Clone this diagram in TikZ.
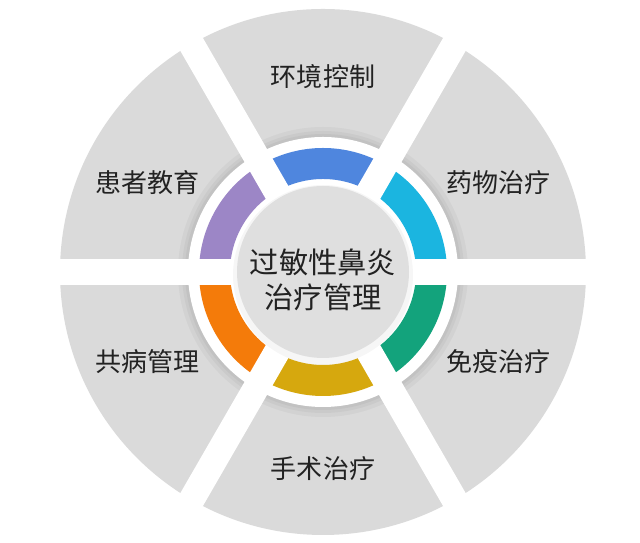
\documentclass[tikz,border=0pt]{standalone}
\usepackage{fontspec}
\newfontfamily\cjk{Noto Sans CJK SC}
\usepackage{xcolor}
\usepackage{tikz}
\usetikzlibrary{positioning}

\definecolor{sectorgray}{HTML}{DADADA}
\definecolor{hubgray}{HTML}{DFDFDF}
\definecolor{arcblue}{HTML}{4F86DE}
\definecolor{arccyan}{HTML}{1BB5E0}
\definecolor{arcgreen}{HTML}{13A37C}
\definecolor{arcyellow}{HTML}{D6A80E}
\definecolor{arcorange}{HTML}{F47B0A}
\definecolor{arcpurple}{HTML}{9C86C6}
\definecolor{txt}{HTML}{222222}

\begin{document}
\begin{tikzpicture}[
  x=0.025cm, y=0.025cm,
  lbl/.style={text=txt, font=\cjk\fontsize{18.5pt}{22pt}\selectfont, inner sep=0pt},
  hubdisk/.style={circle, fill=hubgray, minimum size=172*0.025cm, inner sep=0pt},
  hubtext/.style={align=center, text=txt, inner sep=0pt, font=\cjk\fontsize{20.8pt}{25pt}\selectfont},
  band/.style={white, line width=0.65cm},
  shade/.style={fill=black, opacity=0.035}]

  \useasboundingbox (0,0) rectangle (640,543);
  \coordinate (c) at (323,271);

  % outer sectors
  \fill[sectorgray] (c) circle[radius=263];

  % white hub with soft shadow
  \fill[shade] (c) circle[radius=145];
  \fill[shade] (c) circle[radius=141];
  \fill[shade] (c) circle[radius=138];
  \fill[white] (c) circle[radius=135];

  % coloured ring
  \fill[arcblue]   (c) ++(60:124)  arc[start angle=60,  end angle=120, radius=124] -- ++(300:31) arc[start angle=120, end angle=60,  radius=93] -- cycle;
  \fill[arccyan]   (c) ++(0:124)   arc[start angle=0,   end angle=60,  radius=124] -- ++(240:31) arc[start angle=60,  end angle=0,   radius=93] -- cycle;
  \fill[arcgreen]  (c) ++(-60:124) arc[start angle=-60, end angle=0,   radius=124] -- ++(180:31) arc[start angle=0,   end angle=-60, radius=93] -- cycle;
  \fill[arcyellow] (c) ++(240:124) arc[start angle=240, end angle=300, radius=124] -- ++(120:31) arc[start angle=300, end angle=240, radius=93] -- cycle;
  \fill[arcorange] (c) ++(180:124) arc[start angle=180, end angle=240, radius=124] -- ++(60:31)  arc[start angle=240, end angle=180, radius=93] -- cycle;
  \fill[arcpurple] (c) ++(120:124) arc[start angle=120, end angle=180, radius=124] -- ++(0:31)   arc[start angle=180, end angle=120, radius=93] -- cycle;

  % gaps between sectors
  \draw[band] (c) ++(0:270)   -- ++(180:540);
  \draw[band] (c) ++(60:270)  -- ++(240:540);
  \draw[band] (c) ++(120:270) -- ++(300:540);

  % centre
  \fill[shade] (c) ++(0,-3) circle[radius=90];
  \node[hubdisk] (hub) at (c) {};
  \node[hubtext] (title) at ([yshift=-0.2cm]hub.center) {过敏性鼻炎\\治疗管理};

  \path (c) ++(90:195)  node[lbl] (env)     {环境控制};
  \path (c) ++(27:197)  node[lbl] (drug)    {药物治疗};
  \path (c) ++(-27:197) node[lbl] (immune)  {免疫治疗};
  \path (c) ++(-90:197) node[lbl] (surgery) {手术治疗};
  \path (c) ++(207:197) node[lbl] (comorb)  {共病管理};
  \path (c) ++(153:197) node[lbl] (edu)     {患者教育};
\end{tikzpicture}
\end{document}
